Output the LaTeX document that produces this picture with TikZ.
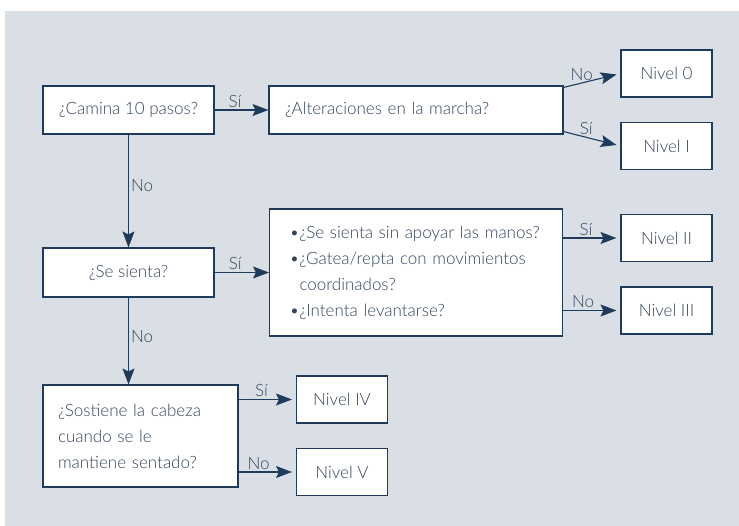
\documentclass[tikz,border=0pt]{standalone}
\usepackage{fontspec}
\setmainfont{Lato}[UprightFont={* Light}]
\usetikzlibrary{arrows.meta}
\definecolor{panel}{HTML}{DADFE6}
\definecolor{navy}{HTML}{1F3B5C}
\definecolor{ink}{HTML}{34465E}
\newcommand{\punto}{\makebox[10pt][l]{\textbullet}}
\tikzstyle{box} = [draw=navy, fill=white, line width=1.1pt, text=ink, minimum height=48pt, inner sep=0pt, font=\fontsize{17}{26}\selectfont]
\tikzstyle{nivel} = [box, minimum width=91pt, minimum height=47pt]
\tikzstyle{link} = [draw=navy, line width=1.1pt, -{Stealth[length=16pt,width=12pt,inset=3pt]}]
\tikzstyle{tag} = [text=ink, font=\fontsize{17}{20}\selectfont, inner sep=2pt]

\begin{document}
\begin{tikzpicture}[x=1pt,y=-1pt]
    \useasboundingbox (0,0) rectangle (739,526);
    \fill[panel] (5,11) rectangle (739,526);
    % preguntas
    \node[box, minimum width=171pt] (camina) at (128.5,110) {¿Camina 10 pasos?};
    \node[box, text width=262pt, inner xsep=16pt, align=left] (marcha) at (416,110) {¿Alteraciones en la marcha?};
    \node[box, minimum width=171pt, minimum height=49pt] (sienta) at (128.5,272.5) {¿Se sienta?};
    \node[box, text width=253pt, inner xsep=20pt, minimum height=127pt, align=left] (manos) at (416,272.5)
      {\punto¿Se sienta sin apoyar las manos?\\
       \punto¿Gatea/repta con movimientos\\
       \hphantom{\punto}coordinados?\\
       \punto¿Intenta levantarse?};
    \node[box, text width=165pt, inner xsep=15pt, minimum height=102pt, align=left] (cabeza) at (140.5,436)
      {¿Sostiene la cabeza\\cuando se le\\mantiene sentado?};
    % niveles
    \node[nivel] (n0) at (666.5,73.5) {Nivel 0};
    \node[nivel] (n1) at (666.5,146) {Nivel I};
    \node[nivel] (n2) at (666.5,238) {Nivel II};
    \node[nivel] (n3) at (666.5,310.5) {Nivel III};
    \node[nivel] (n4) at (342,399.5) {Nivel IV};
    \node[nivel] (n5) at (342,472) {Nivel V};
    % flechas
    \draw[link] (camina) -- node[tag, above, pos=0.38] {Sí} (marcha);
    \draw[link] (camina) -- node[tag, right, pos=0.45] {No} (sienta);
    \draw[link] (sienta) -- node[tag, above, pos=0.38] {Sí} (manos);
    \draw[link] (sienta.south) -- node[tag, right, pos=0.45] {No} (sienta.south |- cabeza.north);
    \draw[link, shorten >=4pt] ([yshift=-2pt]marcha.north east) -- node[tag, above, pos=0.32] {No} (n0.west);
    \draw[link, shorten >=4pt] ([yshift=3pt]marcha.south east) -- node[tag, above, pos=0.4] {Sí} (n1.west);
    \draw[link, shorten >=4pt] (manos.east |- n2) -- node[tag, above, pos=0.4] {Sí} (n2);
    \draw[link, shorten >=4pt] (manos.east |- n3) -- node[tag, above, pos=0.35] {No} (n3);
    \draw[link, shorten >=4pt] (cabeza.east |- n4) -- node[tag, above, pos=0.4] {Sí} (n4);
    \draw[link, shorten >=4pt] (cabeza.east |- n5) -- node[tag, above, pos=0.35] {No} (n5);
\end{tikzpicture}
\end{document}
